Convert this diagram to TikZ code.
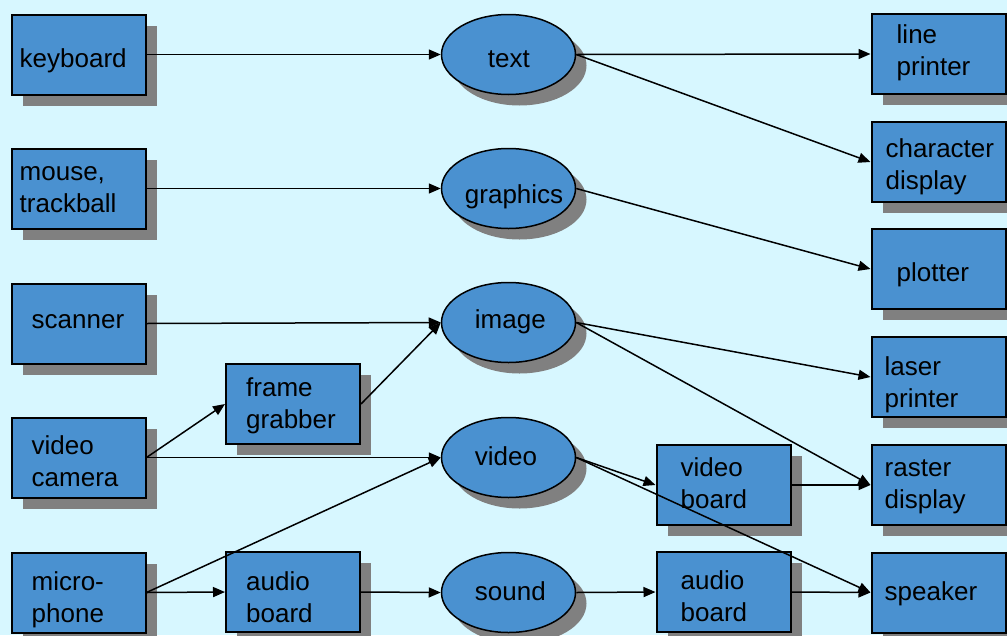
\documentclass[tikz,border=0pt]{standalone}
\usepackage{fontspec}
\setmainfont{Liberation Sans}
\usetikzlibrary{arrows.meta,shadows,shapes.geometric}
\definecolor{bgcyan}{RGB}{215,247,255}
\definecolor{boxblue}{RGB}{74,145,208}
\definecolor{shadowgray}{RGB}{128,128,128}

% two left-aligned lines whose baseline is the first line's
\newcommand{\twolines}[2]{\begin{tabular}[t]{@{}l@{}}#1\\#2\end{tabular}}

\begin{document}
\begin{tikzpicture}[x=1pt,y=-1pt,
  shade/.style={drop shadow={shadow xshift=11pt,shadow yshift=-11pt,fill=shadowgray,opacity=1}},
  dev/.style={draw=black,line width=2pt,fill=boxblue,minimum width=134pt,minimum height=80pt,inner sep=0pt,shade},
  media/.style={ellipse,draw=black,line width=1.5pt,fill=boxblue,minimum width=134pt,minimum height=80pt,inner sep=0pt,shade},
  lbl/.style={inner sep=0pt,anchor=base west,font=\fontsize{26}{32}\selectfont},
  link/.style={line width=1.5pt,-{Triangle[length=12pt,width=10pt]}}
]
\useasboundingbox (0,0) rectangle (1007,635);
\clip (0,0) rectangle (1007,635);
\fill[bgcyan] (0,0) rectangle (1007,635);

% input devices
\node[dev] (kb)  at (78.5,54.5)  {};
\node[dev] (ms)  at (78.5,188.5) {};
\node[dev] (sc)  at (78.5,323.5) {};
\node[dev] (cam) at (78.5,457.5) {};
\node[dev] (mic) at (78.5,592.5) {};

% converters on the input side
\node[dev] (fg)  at (293,404) {};
\node[dev] (ab1) at (293,592) {};

% media
\node[media] (txt) at (508.5,54.5)  {};
\node[media] (gfx) at (508.5,188.5) {};
\node[media] (img) at (508.5,322.5) {};
\node[media] (vid) at (508.5,457.5) {};
\node[media] (snd) at (508.5,592.5) {};

% converters on the output side
\node[dev] (vb)  at (723.5,485) {};
\node[dev] (ab2) at (723.5,592) {};

% output devices
\node[dev] (lp)  at (938.5,54)    {};
\node[dev] (cd)  at (938.5,162)   {};
\node[dev] (pl)  at (938.5,269)   {};
\node[dev] (las) at (938.5,377)   {};
\node[dev] (rd)  at (938.5,485)   {};
\node[dev] (sp)  at (938.5,592.5) {};

% labels
\node[lbl] (kbt)  at ([shift={(9,12.5)}]kb.west)   {keyboard};
\node[lbl] (mst)  at ([shift={(9,-7.8)}]ms.west)   {\twolines{mouse,}{trackball}};
\node[lbl] (sct)  at ([shift={(21,4.8)}]sc.west)   {scanner};
\node[lbl] (camt) at ([shift={(21,-3.2)}]cam.west) {\twolines{video}{camera}};
\node[lbl] (mict) at ([shift={(21,-2.5)}]mic.west) {\twolines{micro-}{phone}};
\node[lbl] (fgt)  at ([shift={(21,-8)}]fg.west)    {\twolines{frame}{grabber}};
\node[lbl] (ab1t) at ([shift={(21,-2)}]ab1.west)   {\twolines{audio}{board}};
\node[lbl] (txtt) at ([shift={(47,12.5)}]txt.west) {text};
\node[lbl] (gfxt) at ([shift={(24,14.8)}]gfx.west) {graphics};
\node[lbl] (imgt) at ([shift={(34,5.8)}]img.west)  {image};
\node[lbl] (vidt) at ([shift={(34,7.5)}]vid.west)  {video};
\node[lbl] (sndt) at ([shift={(34,7.5)}]snd.west)  {sound};
\node[lbl] (vbt)  at ([shift={(25,-8.3)}]vb.west)  {\twolines{video}{board}};
\node[lbl] (ab2t) at ([shift={(25,-2.5)}]ab2.west) {\twolines{audio}{board}};
\node[lbl] (lpt)  at ([shift={(26,-10.7)}]lp.west) {\twolines{line}{printer}};
\node[lbl] (cdt)  at ([shift={(15,-4.7)}]cd.west)  {\twolines{character}{display}};
\node[lbl] (plt)  at ([shift={(26,12.7)}]pl.west)  {plotter};
\node[lbl] (last) at ([shift={(14,-2)}]las.west)   {\twolines{laser}{printer}};
\node[lbl] (rdt)  at ([shift={(14,-8.3)}]rd.west)  {\twolines{raster}{display}};
\node[lbl] (spt)  at ([shift={(14,7.5)}]sp.west)   {speaker};

% connections
\draw[link] (kb.east)  -- (txt.west);
\draw[link] (ms.east)  -- (gfx.west);
\draw[link] (sc.east)  -- (img.west);
\draw[link] (cam.east) -- (fg.west);
\draw[link] (cam.east) -- (vid.west);
\draw[link] (fg.east)  -- (img.west);
\draw[link] (mic.east) -- (vid.west);
\draw[link] (mic.east) -- (ab1.west);
\draw[link] (ab1.east) -- (snd.west);
\draw[link] (txt.east) -- (lp.west);
\draw[link] (txt.east) -- (cd.west);
\draw[link] (gfx.east) -- (pl.west);
\draw[link] (img.east) -- (las.west);
\draw[link] (img.east) -- (rd.west);
\draw[link] (vid.east) -- (vb.west);
\draw[link] (vid.east) -- (sp.west);
\draw[link] (vb.east)  -- (rd.west);
\draw[link] (snd.east) -- (ab2.west);
\draw[link] (ab2.east) -- (sp.west);
\end{tikzpicture}
\end{document}
